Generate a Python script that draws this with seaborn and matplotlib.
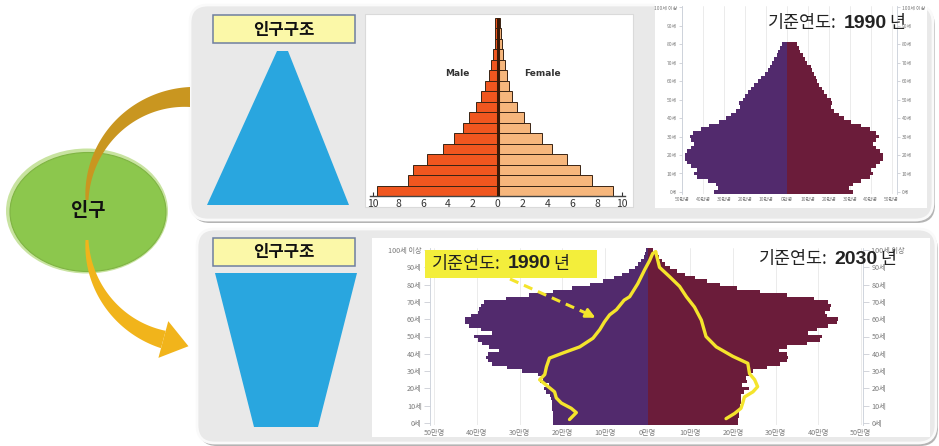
import numpy as np
import matplotlib
matplotlib.use("Agg")
import matplotlib.pyplot as plt
from matplotlib.patches import Ellipse, FancyBboxPatch, Polygon, Rectangle
import seaborn as sns

# ---------------- data ----------------
# cartoon pyramid (upper middle), age groups bottom -> top, in %
cartoon_groups = ["0-4", "5-9", "10-14", "15-19", "20-24", "25-29", "30-34", "35-39",
                  "40-44", "45-49", "50-54", "55-59", "60-64", "65-69", "70-74", "75-79", "80+"]
cartoon_male = [9.7, 7.2, 6.8, 5.7, 4.4, 3.5, 2.8, 2.3, 1.7, 1.3, 1.0, 0.7, 0.55, 0.35, 0.22, 0.19, 0.19]
cartoon_female = [9.3, 7.6, 6.6, 5.6, 4.4, 3.6, 2.65, 2.1, 1.6, 1.2, 0.93, 0.74, 0.58, 0.48, 0.34, 0.27, 0.21]

# 1990 pyramid (upper right), 만명
ages_1990 = list(range(0, 81, 2))
male_1990 = [34.6, 33.0, 33.8, 37.8, 42.7, 44.3, 43.0, 45.9, 47.5, 48.6, 48.6, 47.5, 45.9, 44.3,
             45.9, 46.2, 44.6, 41.1, 37.0, 32.2, 29.0, 26.6, 24.2, 22.5, 23.0, 20.9, 20.1, 18.5,
             16.9, 15.6, 13.7, 12.1, 10.5, 9.2, 8.1, 6.9, 6.0, 4.8, 4.0, 3.1, 2.4]
female_1990 = [31.4, 29.8, 31.4, 35.4, 39.5, 41.1, 40.3, 42.7, 44.3, 45.6, 45.9, 44.6, 42.7, 41.1,
               42.7, 44.0, 42.7, 39.5, 35.4, 30.6, 27.4, 25.0, 22.5, 20.9, 21.7, 20.9, 19.3, 17.7,
               16.9, 15.3, 14.5, 13.7, 12.9, 12.1, 11.3, 9.7, 8.5, 7.6, 6.4, 5.6, 4.8]

# 2030 pyramid (lower), 만명
ages_2030 = list(range(0, 101, 2))
male_2030 = [22.2, 22.2, 22.2, 22.2, 22.3, 22.4, 22.5, 22.6, 22.8, 23.8, 24.2, 23.0, 25.3, 24.6,
             25.7, 29.5, 33.0, 36.5, 37.5, 37.9, 37.5, 34.8, 37.1, 38.8, 39.8, 40.6, 36.5, 39.0,
             41.8, 42.8, 42.8, 41.4, 39.8, 39.5, 39.1, 38.3, 33.2, 27.8, 22.2, 17.6, 13.6, 10.5,
             7.8, 5.9, 4.3, 3.0, 2.2, 1.5, 0.9, 0.5, 0.3]
female_2030 = [21.2, 21.3, 21.4, 21.5, 21.6, 21.7, 21.8, 21.9, 22.0, 22.5, 23.7, 22.2, 23.4, 23.0,
               23.7, 24.8, 28.0, 31.1, 32.6, 33.0, 32.6, 30.7, 32.6, 37.3, 40.4, 40.8, 37.7, 39.6,
               42.4, 44.3, 44.7, 42.0, 41.6, 42.7, 43.1, 42.4, 38.9, 32.6, 26.4, 20.9, 17.0, 13.9,
               11.2, 8.8, 6.9, 5.3, 4.2, 3.4, 2.6, 1.8, 1.3]

# 1990 outline drawn over the 2030 pyramid (signed position, 만명)
line_age_m = [2, 6, 8.5, 11.5, 14.5, 18, 21, 25, 28, 32.5, 37.5, 40.5, 44, 49, 54, 58.5, 62.5,
              65.5, 71, 73, 80.5, 88.5, 94, 98, 99]
line_val_m = [-18.3, -16.7, -17.9, -20.2, -21.4, -21.8, -23.3, -25.3, -24.1, -23.7, -23.0, -19.8,
              -15.9, -12.8, -11.2, -10.1, -8.9, -7.3, -5.5, -4.2, -2.3, -0.7, 0.5, 1.2, 1.9]
line_age_f = [99, 94, 90, 84.5, 79, 73, 67, 59.5, 50, 44, 38.5, 34.5, 28.5, 25, 21, 18, 15, 11.5,
              8.5, 5.5, 2.5]
line_val_f = [1.9, 2.4, 2.8, 5.2, 7.5, 9.1, 11.0, 12.6, 13.7, 16.1, 20.0, 23.5, 23.9, 25.1, 25.8,
              24.7, 22.7, 22.3, 21.9, 20.4, 18.4]

age_ticks = list(range(0, 101, 10))
age_labels = [f"{a}세" for a in age_ticks[:-1]] + ["100세 이상"]
pop_ticks = list(range(-50, 51, 10))
pop_labels = [f"{abs(v)}만명" for v in pop_ticks]
cartoon_ticks = list(range(-10, 11, 2))

MALE_C, FEMALE_C = "#522a6d", "#6b1c3a"
YELLOW = "#f4e42c"

sns.set_theme(style="white")
plt.rcParams["font.family"] = ["Noto Sans CJK KR", "DejaVu Sans"]

W, H = 939, 446
fig = plt.figure(figsize=(W / 100, H / 100), dpi=100)
fig.patch.set_facecolor("white")


def px_axes(x0, y0, x1, y1):
    return fig.add_axes([x0 / W, 1 - y1 / H, (x1 - x0) / W, (y1 - y0) / H])


def pixel_canvas():
    a = fig.add_axes([0, 0, 1, 1])
    a.set_xlim(0, W)
    a.set_ylim(H, 0)
    a.axis("off")
    a.patch.set_alpha(0)
    return a


bg = pixel_canvas()


def panel(x0, y0, x1, y1):
    style = "round,pad=0,rounding_size=18"
    bg.add_patch(FancyBboxPatch((x0 + 2, y0 + 3), x1 - x0, y1 - y0, boxstyle=style,
                                fc="#b4b4b4", ec="none", zorder=1))
    bg.add_patch(FancyBboxPatch((x0, y0), x1 - x0, y1 - y0, boxstyle=style,
                                fc="#e9e9e9", ec="#fafafa", lw=2, zorder=1.1))


def tapered_arc(cx, cy, r, th0, th1, w0, w1, n=80):
    th = np.radians(np.linspace(th0, th1, n))
    w = np.linspace(w0, w1, n)
    outer = np.c_[cx + (r + w / 2) * np.cos(th), cy - (r + w / 2) * np.sin(th)]
    inner = np.c_[cx + (r - w / 2) * np.cos(th), cy - (r - w / 2) * np.sin(th)]
    return np.vstack([outer, inner[::-1]])


panel(190, 5, 933, 220)
panel(197, 229, 936, 443)

# white chart areas
bg.add_patch(Rectangle((365, 14), 268, 193, fc="white", ec="#dadada", lw=0.8, zorder=2))
bg.add_patch(Rectangle((655, 3), 272, 205, fc="white", ec="none", zorder=2))
bg.add_patch(Rectangle((372, 238), 558, 199, fc="white", ec="none", zorder=2))

# blue trapezoids
bg.add_patch(Polygon([(277, 51), (288, 51), (349, 205), (207, 205)], fc="#29a6df", ec="none", zorder=2))
bg.add_patch(Polygon([(215, 273), (357, 273), (318, 427), (254, 427)], fc="#29a6df", ec="none", zorder=2))

# label boxes
for y0 in (15, 238):
    bg.add_patch(Rectangle((213, y0), 142, 28, fc="#fbf8a8", ec="#6f7f9f", lw=1.1, zorder=3))
    bg.text(284, y0 + 14.5, "인구구조", ha="center", va="center", fontsize=12,
            fontweight="bold", color="#111111", zorder=4)

# green ellipse
bg.add_patch(Ellipse((87, 211), 162, 125, fc="#c8e3a0", ec="none", zorder=3))
bg.add_patch(Ellipse((88, 212), 156, 119, fc="#8cc74d", ec="#7fb443", lw=0.8, zorder=3.1))

# arcs
bg.add_patch(Polygon(tapered_arc(190, 200, 103, 90, 180, 20, 3), fc="#c99620", ec="none", zorder=3.5))
bg.add_patch(Polygon(tapered_arc(190, 240, 103, 180, 255, 3, 18), fc="#f1b41b", ec="none", zorder=3.5))
th = np.radians(255)
p = np.array([190 + 103 * np.cos(th), 240 - 103 * np.sin(th)])
d = np.array([-np.sin(th), -np.cos(th)])
nrm = np.array([-d[1], d[0]])
bg.add_patch(Polygon([p + 19 * nrm, p - 19 * nrm, p + 26 * d], fc="#f1b41b", ec="none", zorder=3.5))
bg.text(88, 211, "인구", ha="center", va="center", fontsize=13.5, fontweight="bold",
        color="#111111", zorder=5)

# ---------------- cartoon pyramid ----------------
ax1 = px_axes(370, 18, 625, 196)
ax1.patch.set_alpha(0)
order = cartoon_groups[::-1]
sns.barplot(x=[-v for v in cartoon_male], y=cartoon_groups, order=order, orient="h",
            color="#f0561f", saturation=1, width=1, edgecolor="#3a2414", linewidth=0.7, ax=ax1)
sns.barplot(x=cartoon_female, y=cartoon_groups, order=order, orient="h",
            color="#f6b67c", saturation=1, width=1, edgecolor="#3a2414", linewidth=0.7, ax=ax1)
ax1.axvline(0, color="#3b1a07", lw=2.2, zorder=5)
ax1.set_xlim(-10.25, 10.25)
ax1.set_xticks(cartoon_ticks)
ax1.set_xticklabels([str(abs(v)) for v in cartoon_ticks])
ax1.set_yticks([])
ax1.set_xlabel("")
ax1.set_ylabel("")
for s in ("top", "left", "right"):
    ax1.spines[s].set_visible(False)
ax1.spines["bottom"].set_color("#444444")
ax1.spines["bottom"].set_linewidth(1.0)
ax1.tick_params(axis="x", length=3, width=0.8, direction="in", labelsize=7.5, pad=2,
                colors="#333333", bottom=True)
bg.text(457, 73, "Male", ha="center", va="center", fontsize=6.5, fontweight="bold",
        color="#333333", family="DejaVu Sans", zorder=6)
bg.text(542, 73, "Female", ha="center", va="center", fontsize=6.5, fontweight="bold",
        color="#333333", family="DejaVu Sans", zorder=6)


def style_pyramid(ax, labelsize, length, pad):
    ax.patch.set_alpha(0)
    ax.set_yticks(age_ticks)
    ax.set_yticklabels(age_labels)
    ax.set_xticks(pop_ticks)
    ax.set_xticklabels(pop_labels)
    ax.grid(axis="x", color="#e8e8e8", lw=0.6)
    ax.grid(axis="y", visible=False)
    ax.set_axisbelow(True)
    for s in ("top", "bottom"):
        ax.spines[s].set_visible(False)
    for s in ("left", "right"):
        ax.spines[s].set_color("#c9cfd8")
        ax.spines[s].set_linewidth(0.6)
    ax.tick_params(axis="y", left=True, right=True, labelleft=True, labelright=True,
                   length=length, width=0.5, color="#c0c4cc", labelsize=labelsize,
                   labelcolor="#7a7a7a", pad=pad)
    ax.tick_params(axis="x", length=0, labelsize=labelsize, labelcolor="#7a7a7a", pad=pad + 1)


# ---------------- 1990 pyramid ----------------
ax2 = px_axes(682, 5.5, 897, 193.8)
ax2.barh(ages_1990, [-v for v in male_1990], height=2, color=MALE_C, lw=0)
ax2.barh(ages_1990, female_1990, height=2, color=FEMALE_C, lw=0)
ax2.set_xlim(-50, 52.5)
ax2.set_ylim(-1, 101)
style_pyramid(ax2, 3.6, 2.5, 1)

# ---------------- 2030 pyramid ----------------
ax3 = px_axes(430, 248.3, 863, 424.7)
ax3.barh(ages_2030, [-v for v in male_2030], height=2, color=MALE_C, lw=0)
ax3.barh(ages_2030, female_2030, height=2, color=FEMALE_C, lw=0)
sns.lineplot(x=line_val_m, y=line_age_m, sort=False, estimator=None, color=YELLOW, lw=2.4, ax=ax3)
sns.lineplot(x=line_val_f, y=line_age_f, sort=False, estimator=None, color=YELLOW, lw=2.4, ax=ax3)
ax3.set_xlim(-51, 50.5)
ax3.set_ylim(-1, 101)
ax3.set_xlabel("")
ax3.set_ylabel("")
style_pyramid(ax3, 5.2, 4, 2)

# ---------------- overlay texts ----------------
ov = pixel_canvas()
ov.add_patch(Rectangle((425, 250), 172, 28, fc="#f3ee3b", ec="none", zorder=2))
ov.plot([510, 588], [279, 314], color=YELLOW, lw=2.2, ls=(0, (3, 2)), zorder=3)
ov.annotate("", xy=(598, 319), xytext=(586, 313),
            arrowprops=dict(arrowstyle="-|>", color=YELLOW, lw=2, mutation_scale=14), zorder=3)

fig.canvas.draw()
renderer = fig.canvas.get_renderer()


def text_runs(x, y, runs):
    for s, size, weight, fam, gap in runs:
        t = ov.text(x, y, s, fontsize=size, fontweight=weight, family=fam, ha="left",
                    va="center", color="#222222", zorder=5)
        bb = t.get_window_extent(renderer=renderer)
        x = bb.x1 + gap


kor = ["Noto Sans CJK KR", "DejaVu Sans"]
num = ["Liberation Sans", "DejaVu Sans"]
for x, y, year in ((768, 23, "1990"), (759, 259, "2030"), (432, 264, "1990")):
    text_runs(x, y, [("기준연도:", 12.5, "normal", kor, 7),
                     (year, 14, "bold", num, 2),
                     ("년", 12.5, "normal", kor, 0)])

fig.savefig("out.png", dpi=100)
